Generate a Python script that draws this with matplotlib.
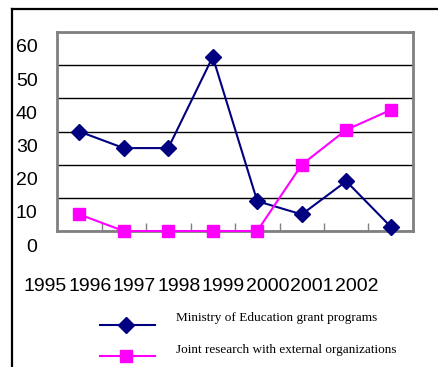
import matplotlib
matplotlib.use("Agg")
import matplotlib.pyplot as plt
from matplotlib.lines import Line2D
from matplotlib.transforms import ScaledTranslation

years = ["1995", "1996", "1997", "1998", "1999", "2000", "2001", "2002"]
moe_grants = [30, 25, 25, 52.5, 9, 5, 15, 1.3]
joint_research = [5, 0, 0, 0, 0, 20, 30.5, 36.5]
yticks = [0, 10, 20, 30, 40, 50, 60]
series_labels = ["Ministry of Education grant programs",
                 "Joint research with external organizations"]
series_colors = ["#000080", "#FF00FF"]
series_markers = ["D", "s"]

fig = plt.figure(figsize=(4.38, 3.67), dpi=100)
ax = fig.add_axes([57/438, 1-231/367, (413-57)/438, (231-32)/367])

x = list(range(len(years)))
for vals, c, m in zip([moe_grants, joint_research], series_colors, series_markers):
    ax.plot(x, vals, color=c, lw=1.5, marker=m, ms=8, clip_on=False, zorder=3)

ax.set_xlim(-0.5, len(years) - 0.5)
ax.set_ylim(0, 60)
ax.set_yticks(yticks)
ax.set_yticklabels([str(v) for v in yticks], fontsize=14, family="Liberation Sans")
ax.yaxis.grid(True, color="black", lw=1)
ax.set_axisbelow(True)
ax.tick_params(axis="y", length=0, pad=14)
for lab in ax.get_yticklabels():
    lab.set_transform(lab.get_transform() + ScaledTranslation(0, -14/100, fig.dpi_scale_trans))

# category boundary ticks (inward) with offset year labels
ax.set_xticks([i + 0.5 for i in x[:-1]], minor=True)
ax.tick_params(axis="x", which="minor", direction="in", length=6, color="#808080", width=1)
ax.set_xticks(x)
ax.set_xticklabels(years, fontsize=14, family="Liberation Sans")
ax.tick_params(axis="x", which="major", length=0, pad=34)
for lab in ax.get_xticklabels():
    lab.set_transform(lab.get_transform() + ScaledTranslation(-34/100, 0, fig.dpi_scale_trans))

for s in ax.spines.values():
    s.set_color("#808080")
    s.set_linewidth(2)

# legend (manual)
leg_rows = [(325, 318), (356, 350)]
for (ly, ty), lab, c, m in zip(leg_rows, series_labels, series_colors, series_markers):
    fig.add_artist(Line2D([100/438, 155/438], [1-ly/367, 1-ly/367], color=c, lw=1.5,
                          transform=fig.transFigure))
    fig.add_artist(Line2D([126/438], [1-ly/367], color=c, marker=m, ms=8, lw=0,
                          transform=fig.transFigure))
    fig.text(176/438, 1-ty/367, lab, family="Liberation Serif", fontsize=9.5,
             ha="left", va="center")

# outer frame lines
fig.add_artist(Line2D([12/438, 12/438], [0, 1-9/367], color="black", lw=1.6,
                      transform=fig.transFigure))
fig.add_artist(Line2D([12/438, 1], [1-9/367, 1-9/367], color="black", lw=1.6,
                      transform=fig.transFigure))

fig.savefig("out.png", dpi=100)
